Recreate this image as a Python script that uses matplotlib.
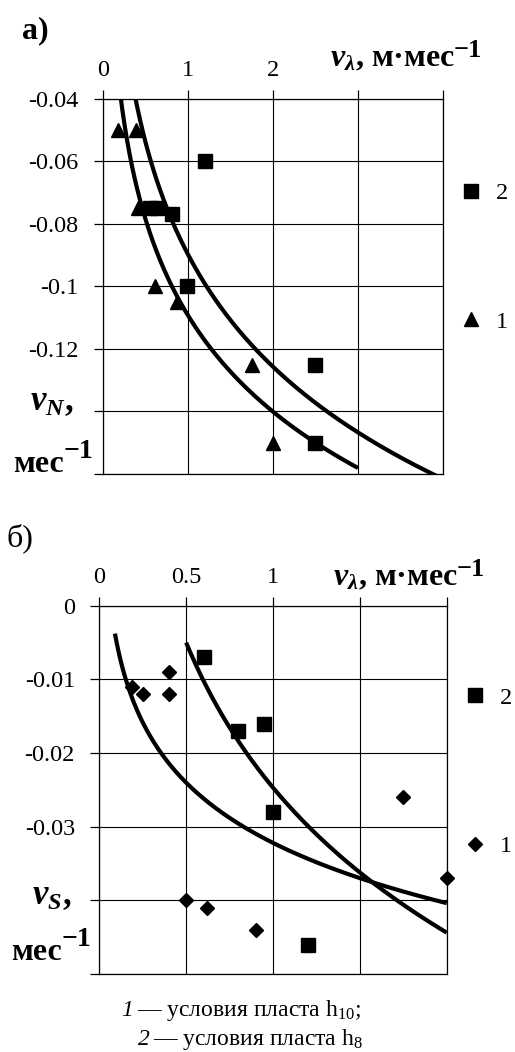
import numpy as np
import matplotlib
matplotlib.use("Agg")
import matplotlib.pyplot as plt

plt.rcParams['font.family'] = ['Liberation Serif', 'DejaVu Serif']
plt.rcParams['mathtext.fontset'] = 'custom'
plt.rcParams['mathtext.rm'] = 'Liberation Serif'
plt.rcParams['mathtext.it'] = 'Liberation Serif:italic'
plt.rcParams['mathtext.bf'] = 'Liberation Serif:bold'
plt.rcParams['mathtext.bfit'] = 'Liberation Serif:italic:bold'

# ---------------- data: panel a) ----------------
a_tri_x = [0.18, 0.39, 0.41, 0.61, 0.87, 1.75, 2.0]
a_tri_y = [-0.050, -0.050, -0.075, -0.100, -0.105, -0.125, -0.150]
a_sq_x = [0.55, 0.63, 0.81, 0.99, 1.20, 2.49, 2.49]
a_sq_y = [-0.075, -0.075, -0.077, -0.100, -0.060, -0.125, -0.150]
# logarithmic trendlines  y = k*ln(x) + b, drawn over [x_from, x_to]
a_trend1 = dict(k=-0.0444, b=-0.1093, x_from=0.18, x_to=3.0)
a_trend2 = dict(k=-0.0518, b=-0.0898, x_from=0.30, x_to=4.0)
a_xticks = [0, 1, 2, 3, 4]
a_xlabels = ['0', '1', '2', '', '']
a_yticks = [-0.04, -0.06, -0.08, -0.10, -0.12, -0.14, -0.16]
a_ylabels = ['-0.04', '-0.06', '-0.08', '-0.1', '-0.12', '', '']

# ---------------- data: panel б) ----------------
b_dia_x = [0.19, 0.25, 0.40, 0.40, 0.50, 0.62, 0.90, 1.75, 2.0]
b_dia_y = [-0.011, -0.012, -0.009, -0.012, -0.040, -0.041, -0.044, -0.026, -0.037]
b_sq_x = [0.60, 0.80, 0.95, 1.00, 1.20]
b_sq_y = [-0.007, -0.017, -0.016, -0.028, -0.046]
b_trend1 = dict(k=-0.0118, b=-0.0322, x_from=0.09, x_to=2.0)
b_trend2 = dict(k=-0.0284, b=-0.0247, x_from=0.50, x_to=2.0)
b_xticks = [0, 0.5, 1, 1.5, 2]
b_xlabels = ['0', '0.5', '1', '', '']
b_yticks = [0, -0.01, -0.02, -0.03, -0.04, -0.05]
b_ylabels = ['0', '-0.01', '-0.02', '-0.03', '', '']

legend_labels = ['2', '1']
caption_nums = ['1', '2']
caption_texts = ['— условия пласта h$_{10}$;', '— условия пласта h$_{8}$']

W, H = 515, 1052
fig = plt.figure(figsize=(W / 100, H / 100), dpi=100)
renderer = fig.canvas.get_renderer()


def fx(px):
    return px / W


def fy(py):
    return 1 - py / H


def axes_px(l, t, r, b):
    return fig.add_axes([fx(l), fy(b), (r - l) / W, (b - t) / H])


def style_axes(ax, xlim, ylim, xt, xl, yt, yl):
    ax.set_xlim(*xlim)
    ax.set_ylim(*ylim)
    ax.xaxis.tick_top()
    ax.set_xticks(xt)
    ax.set_xticklabels(xl)
    ax.set_yticks(yt)
    ax.set_yticklabels(yl)
    ax.tick_params(axis='x', direction='out', length=6.5, width=0.9,
                   pad=6, labelsize=17.5, colors='black')
    ax.tick_params(axis='y', direction='out', length=6.5, width=0.9,
                   pad=11, labelsize=17.5, colors='black')
    ax.grid(True, color='black', lw=0.8)
    ax.set_axisbelow(True)
    for s in ax.spines.values():
        s.set_color('black')
        s.set_linewidth(0.9)


def trend(ax, t):
    xs = np.linspace(t['x_from'], t['x_to'], 300)
    ax.plot(xs, t['k'] * np.log(xs) + t['b'], color='black', lw=3.0,
            solid_capstyle='butt', zorder=3)


def text_with_sup(x, y, main, sup, size, supsize, rise, gap=2, ha='left'):
    t = fig.text(fx(x), fy(y), main, fontsize=size, fontweight='bold',
                 ha='left', va='baseline')
    bb = t.get_window_extent(renderer=renderer)
    s = fig.text(0, fy(y - rise), sup, fontsize=supsize, fontweight='bold',
                 ha='left', va='baseline')
    sb = s.get_window_extent(renderer=renderer)
    total = bb.width + gap + sb.width
    x0 = x if ha == 'left' else x - total / 2
    t.set_x(fx(x0))
    s.set_x(fx(x0 + bb.width + gap))


# ---------------- panel a) ----------------
ax1 = axes_px(103, 98.7, 443, 474)
style_axes(ax1, (0, 4), (-0.16, -0.04), a_xticks, a_xlabels, a_yticks, a_ylabels)
trend(ax1, a_trend1)
trend(ax1, a_trend2)
h1, = ax1.plot(a_tri_x, a_tri_y, ls='none', marker='^', ms=10.5, color='black',
               clip_on=False, zorder=4)
h2, = ax1.plot(a_sq_x, a_sq_y, ls='none', marker='s', ms=9.5, color='black',
               clip_on=False, zorder=4)
ax1.legend([h2, h1], legend_labels, loc='center left',
           bbox_to_anchor=(fx(459), fy(257.5)), bbox_transform=fig.transFigure,
           frameon=False, fontsize=17.5, handlelength=1.0, handletextpad=0.5,
           labelspacing=4.4, borderpad=0, borderaxespad=0)

# ---------------- panel б) ----------------
ax2 = axes_px(99.3, 605.7, 446.7, 974)
style_axes(ax2, (0, 2), (-0.05, 0), b_xticks, b_xlabels, b_yticks, b_ylabels)
trend(ax2, b_trend1)
trend(ax2, b_trend2)
g1, = ax2.plot(b_dia_x, b_dia_y, ls='none', marker='D', ms=7.5, color='black',
               clip_on=False, zorder=4)
g2, = ax2.plot(b_sq_x, b_sq_y, ls='none', marker='s', ms=9.5, color='black',
               clip_on=False, zorder=4)
ax2.legend([g2, g1], legend_labels, loc='center left',
           bbox_to_anchor=(fx(463), fy(772)), bbox_transform=fig.transFigure,
           frameon=False, fontsize=17.5, handlelength=1.0, handletextpad=0.5,
           labelspacing=5.2, borderpad=0, borderaxespad=0)

# ---------------- texts ----------------
fig.text(fx(22), fy(31), 'а)', fontsize=23, fontweight='bold', va='center', ha='left')
fig.text(fx(6), fy(538), 'б)', fontsize=23, va='center', ha='left')

xlab = r'$\mathbfit{v}_{\mathbfit{\lambda}}$, м·мес'
text_with_sup(330, 66, xlab, '−1', 23, 19, 9, gap=-1)
text_with_sup(333, 585, xlab, '−1', 23, 19, 9, gap=-1)

fig.text(fx(52), fy(402), r'$\mathbfit{v}_{\mathbfit{N}}$,', fontsize=25,
         fontweight='bold', ha='center', va='center')
fig.text(fx(52), fy(896), r'$\mathbfit{v}_{\mathbfit{S}}$,', fontsize=25,
         fontweight='bold', ha='center', va='center')
text_with_sup(53, 472, 'мес', '−1', 23, 20, 14, gap=0, ha='center')
text_with_sup(51, 960, 'мес', '−1', 23, 20, 14, gap=0, ha='center')

cap_y = [1016, 1045]
cap_num_x = [133, 150]
cap_txt_x = [137, 153]
for n, t, y, xn, xt in zip(caption_nums, caption_texts, cap_y, cap_num_x, cap_txt_x):
    fig.text(fx(xn), fy(y), n, fontsize=17, style='italic', ha='right', va='baseline')
    fig.text(fx(xt), fy(y), t, fontsize=17, ha='left', va='baseline')

fig.savefig('out.png', dpi=100)
